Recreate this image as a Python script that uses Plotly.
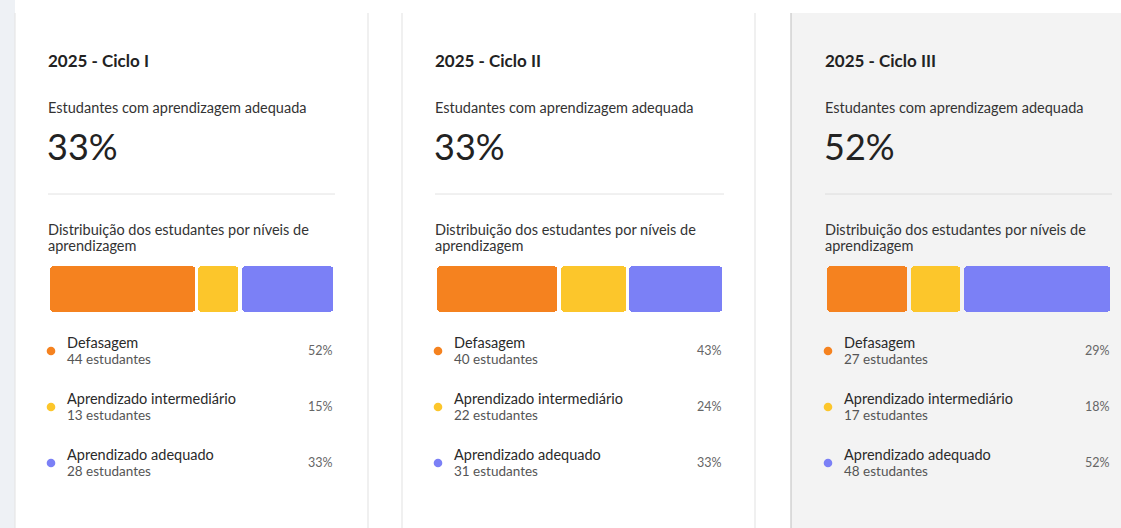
import plotly.graph_objects as go

# ---------------- data ----------------
cards = ["2025 - Ciclo I", "2025 - Ciclo II", "2025 - Ciclo III"]
adequate_pct = ["33%", "33%", "52%"]
levels = ["Defasagem", "Aprendizado intermediário", "Aprendizado adequado"]
counts_c1 = [44, 13, 28]
counts_c2 = [40, 22, 31]
counts_c3 = [27, 17, 48]
pcts_c1 = ["52%", "15%", "33%"]
pcts_c2 = ["43%", "24%", "33%"]
pcts_c3 = ["29%", "18%", "52%"]
subtitle = "Estudantes com aprendizagem adequada"
dist_title_1 = "Distribuição dos estudantes por níveis de"
dist_title_2 = "aprendizagem"

counts = [counts_c1, counts_c2, counts_c3]
pcts = [pcts_c1, pcts_c2, pcts_c3]

# ---------------- style ----------------
W, H = 1121, 528
COLORS = ["#F5821F", "#FCC62B", "#7B80F6"]
FONT = "Lato"
content_x0 = [48, 435, 825]
content_x1 = [335, 724, 1112]
card_bounds = [(15, 368), (402, 755), (791, 1121)]
card_fill = ["#ffffff", "#ffffff", "#f3f3f3"]
card_line = ["#e6e6e6", "#e6e6e6", "#c8c8c8"]
GAP_PX = 3.5
RADIUS = 4


def px(x):
    return x / W


def py(y):
    return 1 - y / H


fig = go.Figure()
shapes = []
annotations = []

# left page edge
shapes.append(dict(type="rect", xref="paper", yref="paper", x0=0, x1=px(15), y0=0, y1=1,
                   fillcolor="#eef1f5", line_width=0, layer="below"))

for i in range(3):
    cx0, cx1 = card_bounds[i]
    shapes.append(dict(type="rect", xref="paper", yref="paper", x0=px(cx0), x1=px(cx1),
                       y0=0, y1=py(13), fillcolor=card_fill[i], line_width=0, layer="below"))
    for xx in ([cx0, cx1] if i < 2 else [cx0]):
        shapes.append(dict(type="line", xref="paper", yref="paper", x0=px(xx), x1=px(xx),
                           y0=0, y1=py(13), line=dict(color=card_line[i], width=1.2), layer="below"))

    x0, x1 = content_x0[i], content_x1[i]
    # divider
    shapes.append(dict(type="line", xref="paper", yref="paper", x0=px(x0), x1=px(x1),
                       y0=py(194), y1=py(194),
                       line=dict(color="#e2e2e2" if i < 2 else "#dcdcdc", width=1), layer="below"))

    def ann(text, x, y, size, color, bold=False, xanchor="left", yanchor="middle"):
        annotations.append(dict(text=("<b>%s</b>" % text) if bold else text, xref="paper", yref="paper",
                                x=px(x), y=py(y), xanchor=xanchor, yanchor=yanchor, showarrow=False,
                                align="left", font=dict(family=FONT, size=size, color=color)))

    ann(cards[i], x0 - 2, 60, 17, "#222222", bold=True)
    ann(subtitle, x0 - 2, 107, 14.5, "#333333")
    ann(adequate_pct[i], x0 - 3, 146, 36, "#222222")
    ann(dist_title_1, x0 - 2, 230, 14.5, "#333333")
    ann(dist_title_2, x0 - 2, 245, 14.5, "#333333")

    # stacked distribution bar
    total = sum(counts[i])
    unit = total / (x1 - x0)
    g = GAP_PX * unit
    xa = "x" if i == 0 else "x%d" % (i + 1)
    ya = "y" if i == 0 else "y%d" % (i + 1)
    cum = 0
    for j, c in enumerate(counts[i]):
        fig.add_trace(go.Bar(orientation="h", y=[0], x=[c - g], base=[cum + g / 2], width=[1],
                             marker=dict(color=COLORS[j], cornerradius=RADIUS, line_width=0),
                             xaxis=xa, yaxis=ya, hoverinfo="skip", showlegend=False))
        cum += c
    lay_x = "xaxis" if i == 0 else "xaxis%d" % (i + 1)
    lay_y = "yaxis" if i == 0 else "yaxis%d" % (i + 1)
    fig.update_layout(**{
        lay_x: dict(domain=[px(x0 - GAP_PX / 2), px(x1 + GAP_PX / 2)], range=[-g / 2, total + g / 2],
                    visible=False, fixedrange=True, anchor=ya),
        lay_y: dict(domain=[py(312), py(266)], range=[-0.5, 0.5], visible=False, fixedrange=True, anchor=xa),
    })

    # legend rows
    for j in range(3):
        yc = 350 + 56 * j
        r = 4.3
        shapes.append(dict(type="circle", xref="paper", yref="paper",
                           x0=px(51 - r + (x0 - 48)), x1=px(51 + r + (x0 - 48)),
                           y0=py(yc + r + 1), y1=py(yc - r + 1),
                           fillcolor=COLORS[j], line_width=0))
        ann(levels[j], x0 + 17, yc - 8, 14.5, "#2a2a2a")
        ann("%d estudantes" % counts[i][j], x0 + 17, yc + 9, 13.5, "#555555")
        ann(pcts[i][j], x1, yc + 0.5, 12.5, "#666666", xanchor="right")

fig.update_layout(
    width=W, height=H, margin=dict(l=0, r=0, t=0, b=0),
    paper_bgcolor="#ffffff", plot_bgcolor="rgba(0,0,0,0)",
    barmode="overlay", bargap=0,
    shapes=shapes, annotations=annotations, showlegend=False,
)

fig.write_html("out.html", config={"displayModeBar": False},
               post_script="document.body.style.margin='0';document.body.style.overflow='hidden';")
